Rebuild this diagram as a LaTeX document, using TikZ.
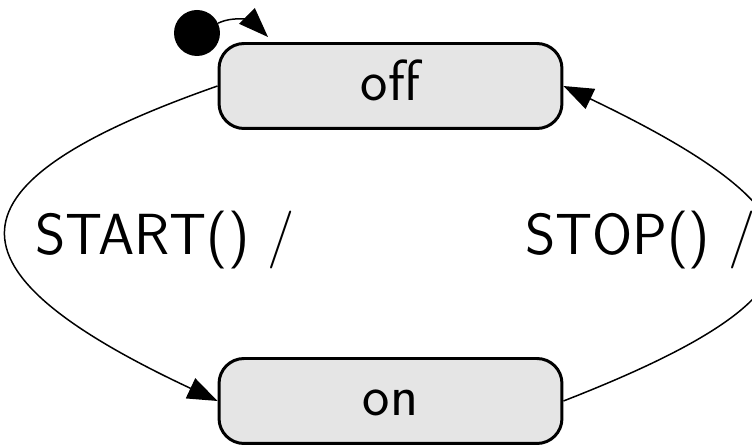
\documentclass[tikz,border=0pt]{standalone}
\usepackage{fontspec}
\usetikzlibrary{arrows.meta,calc}

\tikzset{
  state/.style={draw=black, fill=black!10, line width=1.7pt, rounded corners=0.5cm,
    minimum width=6.86cm, minimum height=1.7cm, inner sep=0pt,
    text height=24pt, text depth=8pt, font=\labelfont},
  initial/.style={circle, fill=black, draw=none, minimum size=0.92cm, inner sep=0pt},
  trans/.style={draw=black, line width=0.85pt, -{Triangle[length=17pt, width=12.5pt]}},
  translabel/.style={anchor=base west, inner sep=0pt, font=\labelfont},
}
\newcommand{\labelfont}{\sffamily\fontsize{33}{40}\selectfont}

\begin{document}
\begin{tikzpicture}[x=0.02cm, y=0.02cm]
  \useasboundingbox (0,0) rectangle (752,446);
  \clip (0,0) rectangle (752,446);

  % states
  \node[state] (off) at (390.5,360) {off};
  \node[state] (on)  at (390.5,45)  {on};

  % initial pseudo-state
  \node[initial] (init) at (197,413) {};
  \coordinate (offentry) at (268,409);
  \draw[trans] (init) to[out=25, in=135] (offentry);

  % transitions
  \draw[trans] (off.west) .. controls (-62,262) and (-62,176) .. (on.west);
  \draw[trans] (on.east) .. controls (843,154) and (843,226) .. (off.east);

  % transition labels
  \node[translabel] (startlbl) at (35,191) {START() /};
  \node[translabel] (stoplbl)  at (525,191) {STOP() /};
\end{tikzpicture}
\end{document}
